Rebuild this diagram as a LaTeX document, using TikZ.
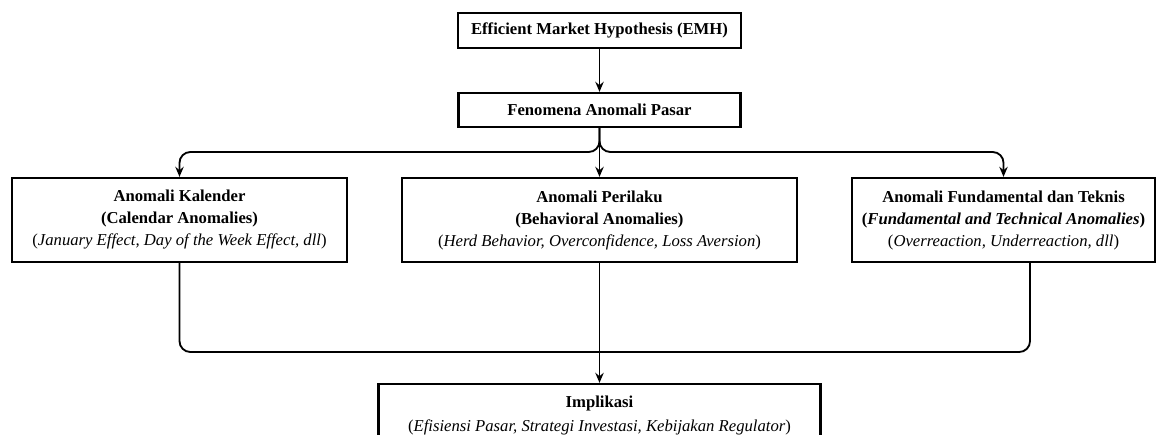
\documentclass[tikz,border=0pt]{standalone}
\usepackage{fontspec}
\setmainfont{Liberation Serif}
\usetikzlibrary{arrows.meta}
\tikzset{
  kotak/.style={draw, line width=1.35pt, align=center, inner sep=2pt,
    font=\fontsize{10}{13.2}\selectfont},
  panah/.style={-{Stealth[length=6pt,width=5pt]}, line width=1.1pt},
  garis/.style={line width=1.1pt}
}
\begin{document}
\begin{tikzpicture}[x=0.6pt, y=-0.6pt]
  \useasboundingbox (0,0) rectangle (1157,434);
  \draw
    (599.5,30.5) node[kotak, minimum width=169.8pt, minimum height=21pt] (emh)
      {\textbf{Efficient Market Hypothesis (EMH)}}
    (599.5,110) node[kotak, minimum width=169.2pt, minimum height=20.4pt] (fen)
      {\textbf{Fenomena Anomali Pasar}}
    (179.5,220) node[kotak, minimum width=201pt, minimum height=50.4pt] (kal)
      {\textbf{Anomali Kalender}\\ \textbf{(Calendar Anomalies)}\\
       (\textit{January Effect, Day of the Week Effect, dll})}
    (599.5,220) node[kotak, minimum width=237pt, minimum height=50.4pt] (per)
      {\textbf{Anomali Perilaku}\\ \textbf{(Behavioral Anomalies)}\\
       (\textit{Herd Behavior, Overconfidence, Loss Aversion})}
    (1003.5,220) node[kotak, minimum width=181.8pt, minimum height=50.4pt] (fun)
      {\textbf{Anomali Fundamental dan Teknis}\\
       \textbf{(\textit{Fundamental and Technical Anomalies})}\\
       (\textit{Overreaction, Underreaction, dll})}
    (599.5,415) node[kotak, minimum width=265.2pt, minimum height=37.2pt,
      font=\fontsize{10}{14.4}\selectfont] (imp)
      {\textbf{Implikasi}\\
       (\textit{Efisiensi Pasar, Strategi Investasi, Kebijakan Regulator})};
  \coordinate (cabang) at (599.5,152);
  \coordinate (gabung) at (599.5,352);
  \coordinate (funbawah) at (1030,262);
  \begin{scope}[rounded corners=6.5pt]
    \draw[panah] (emh) to (fen);
    \draw[panah] (fen.south) |- (kal.north |- cabang) -- (kal.north);
    \draw[panah] (fen.south) |- (fun.north |- cabang) -- (fun.north);
    \draw[panah] (fen.south) -- (per.north);
    \draw[garis] (kal.south) |- (gabung) -| (funbawah);
    \draw[panah] (per.south) -- (imp.north);
  \end{scope}
\end{tikzpicture}
\end{document}
